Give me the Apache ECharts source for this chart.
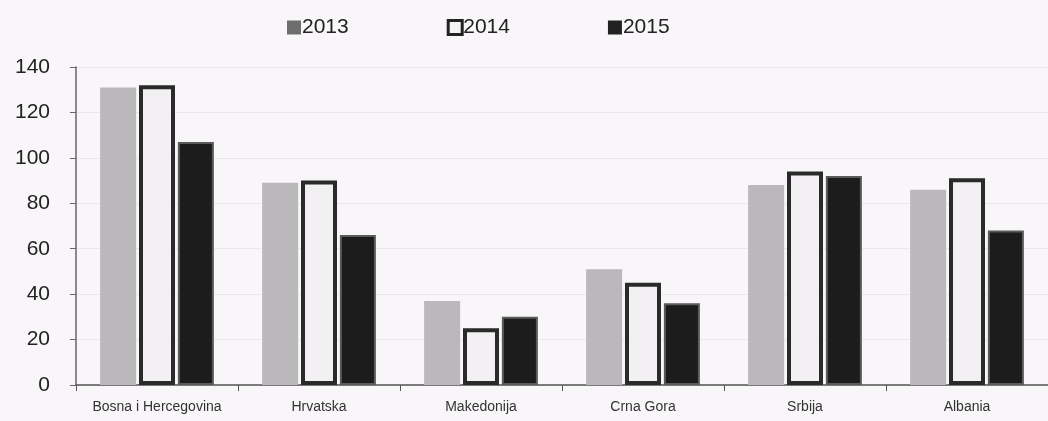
<!DOCTYPE html>
<html><head><meta charset="utf-8">
<script src="https://cdn.jsdelivr.net/npm/echarts@6/dist/echarts.min.js"></script>
<style>html,body{margin:0;padding:0;background:#f8f6f8;}#c{width:1048px;height:421px;}</style>
</head><body><div id="c"></div>
<script>
const categories = ['Bosna i Hercegovina','Hrvatska','Makedonija','Crna Gora','Srbija','Albania'];
const seriesNames = ['2013','2014','2015'];
const v2013 = [131, 89, 37, 51, 88, 86];
const v2014 = [132, 90, 25, 45, 94, 91];
const v2015 = [107, 66, 30, 36, 92, 68];
const yTicks = [0,20,40,60,80,100,120,140];

const chart = echarts.init(document.getElementById('c'));
const font = 'Liberation Sans, Arial, sans-serif';
chart.setOption({
  animation:false,
  backgroundColor:'#f8f6f8',
  textStyle:{fontFamily:font},
  legend:{
    top:12, left:282, itemWidth:14, itemHeight:14, itemGap:98, icon:'rect',
    textStyle:{fontSize:21, color:'#222', fontFamily:font, padding:[0,0,0,-4]},
    data:[
      {name:'2013', itemStyle:{color:'#6e6e6e', borderWidth:0}},
      {name:'2014', itemStyle:{color:'#f4f2f4', borderColor:'#222', borderWidth:3}},
      {name:'2015', itemStyle:{color:'#222', borderWidth:0}}
    ]
  },
  grid:{left:76, top:67, width:978, height:318},
  xAxis:{
    type:'category', data:categories,
    axisLine:{lineStyle:{color:'#555', width:1.5}},
    axisTick:{show:true, interval:0, length:6, lineStyle:{color:'#555'}},
    axisLabel:{interval:0, fontSize:14, color:'#333', margin:15, fontFamily:font},
    splitLine:{show:false}
  },
  yAxis:{
    type:'value', min:0, max:140, interval:20,
    axisLine:{show:true, lineStyle:{color:'#666', width:1.5}},
    axisTick:{show:true, length:6, lineStyle:{color:'#666'}},
    axisLabel:{fontSize:21, color:'#222', margin:26, fontFamily:font,
      formatter:function(v){return yTicks.indexOf(v)>=0?String(v):'';}},
    splitLine:{show:true, lineStyle:{color:'#ebe7eb', width:1}}
  },
  series:[
    {name:seriesNames[0], type:'bar', data:v2013, barWidth:36, barGap:'8%',
      itemStyle:{color:'#bab8ba'}},
    {name:seriesNames[1], type:'bar', data:v2014, barWidth:36, barGap:'8%',
      itemStyle:{color:'#f2f0f2', borderColor:'#2a2a2a', borderWidth:4}},
    {name:seriesNames[2], type:'bar', data:v2015, barWidth:36, barGap:'8%',
      itemStyle:{color:'#1c1c1c', borderColor:'#5a5a5a', borderWidth:2}}
  ]
});
</script></body></html>
